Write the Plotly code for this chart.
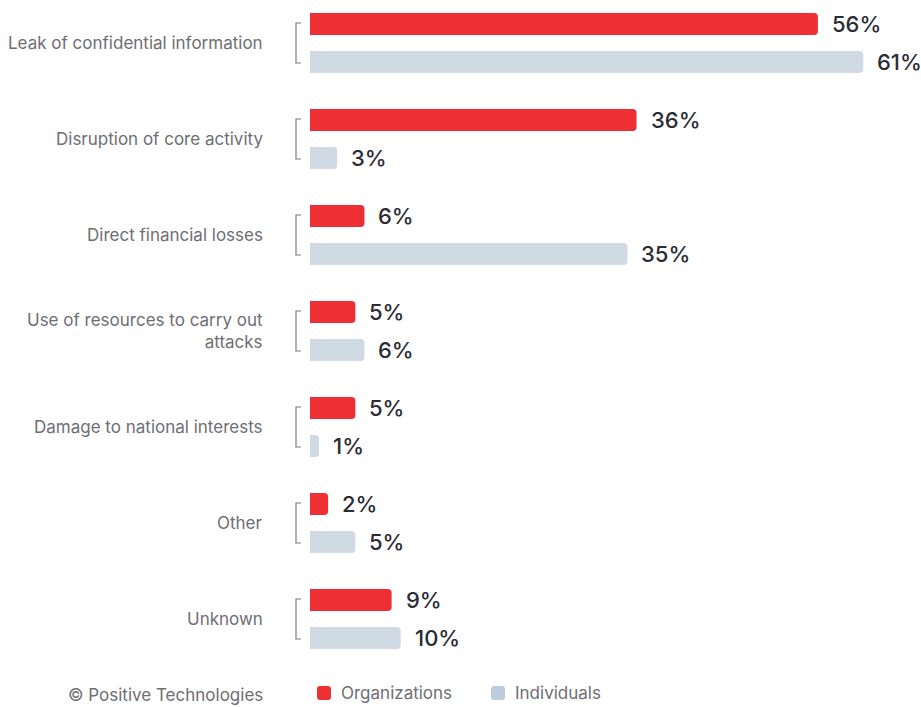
import plotly.graph_objects as go

# Consequences of attacks, share of incidents (%)
categories = [
    "Leak of confidential information",
    "Disruption of core activity",
    "Direct financial losses",
    "Use of resources to carry out<br>attacks",
    "Damage to national interests",
    "Other",
    "Unknown",
]
organizations = [56, 36, 6, 5, 5, 2, 9]
individuals = [61, 3, 35, 6, 1, 5, 10]
series_names = ["Organizations", "Individuals"]

RED = "#EE3034"
GREY_BAR = "#D0DAE4"
GREY_LEGEND = "#BDCCDC"
LABEL = "#2B2B33"
MUTED = "#6E6E73"
FONT = "Inter"

W, H = 921, 707
LEFT = 310
PX_PER_UNIT = 9.07
GROUP_PX = 96
FIRST_CENTER = 43

plot_w = W - LEFT
x_max = plot_w / PX_PER_UNIT
y_top = -FIRST_CENTER / GROUP_PX
y_bottom = y_top + H / GROUP_PX

offset = 19 / GROUP_PX
bar_w = 22 / GROUP_PX


def px_x(px):
    return (px - LEFT) / plot_w


def px_y(py):
    return 1 - py / H


idx = list(range(len(categories)))
y_org = [i - offset for i in idx]
y_ind = [i + offset for i in idx]

fig = go.Figure()
fig.add_trace(go.Bar(
    x=organizations, y=y_org, orientation="h", width=bar_w,
    marker=dict(color=RED, cornerradius=4, line=dict(width=0)),
    name=series_names[0], hoverinfo="x+name",
))
fig.add_trace(go.Bar(
    x=individuals, y=y_ind, orientation="h", width=bar_w,
    marker=dict(color=GREY_BAR, cornerradius=4, line=dict(width=0)),
    name=series_names[1], hoverinfo="x+name",
))

annotations = []
# value labels
for vals, ys in ((organizations, y_org), (individuals, y_ind)):
    for v, y in zip(vals, ys):
        annotations.append(dict(
            x=v, y=y, xref="x", yref="y", text=f"{v}%", showarrow=False,
            xanchor="left", yanchor="middle", xshift=12,
            font=dict(family=FONT, size=22, color=LABEL, weight=500),
        ))

# category labels
for i, c in enumerate(categories):
    annotations.append(dict(
        x=px_x(265), y=i, xref="paper", yref="y", text=c, showarrow=False,
        xanchor="right", yanchor="middle", align="right",
        font=dict(family=FONT, size=17, color=MUTED),
    ))

# footer: copyright and legend
annotations.append(dict(
    x=px_x(265), y=px_y(695), xref="paper", yref="paper",
    text="© Positive Technologies", showarrow=False,
    xanchor="right", yanchor="middle",
    font=dict(family=FONT, size=17, color=MUTED),
))
legend_items = [(series_names[0], RED, 317), (series_names[1], GREY_LEGEND, 491)]
for name, col, x0 in legend_items:
    annotations.append(dict(
        x=px_x(x0 + 22), y=px_y(693), xref="paper", yref="paper",
        text=name, showarrow=False, xanchor="left", yanchor="middle",
        font=dict(family=FONT, size=17, color=MUTED),
    ))

shapes = []
# brackets joining each pair of bars
for i in idx:
    xa, xb = px_x(296), px_x(301)
    ya, yb = i - 20 / GROUP_PX, i + 20 / GROUP_PX
    shapes.append(dict(
        type="path", xref="paper", yref="y",
        path=f"M {xb},{ya} L {xa},{ya} L {xa},{yb} L {xb},{yb}",
        line=dict(color="#7A7A80", width=1.2),
    ))

# rounded legend swatches
def rounded_square(x0, y0, size, r):
    x1, y1 = x0 + size, y0 + size
    pts = [
        f"M {px_x(x0 + r)},{px_y(y0)}",
        f"L {px_x(x1 - r)},{px_y(y0)}",
        f"Q {px_x(x1)},{px_y(y0)} {px_x(x1)},{px_y(y0 + r)}",
        f"L {px_x(x1)},{px_y(y1 - r)}",
        f"Q {px_x(x1)},{px_y(y1)} {px_x(x1 - r)},{px_y(y1)}",
        f"L {px_x(x0 + r)},{px_y(y1)}",
        f"Q {px_x(x0)},{px_y(y1)} {px_x(x0)},{px_y(y1 - r)}",
        f"L {px_x(x0)},{px_y(y0 + r)}",
        f"Q {px_x(x0)},{px_y(y0)} {px_x(x0 + r)},{px_y(y0)}",
        "Z",
    ]
    return " ".join(pts)


for name, col, x0 in legend_items:
    shapes.append(dict(
        type="path", xref="paper", yref="paper",
        path=rounded_square(x0, 686, 14, 3),
        fillcolor=col, line=dict(width=0),
    ))

fig.update_layout(
    width=W, height=H,
    margin=dict(l=LEFT, r=0, t=0, b=0),
    paper_bgcolor="white", plot_bgcolor="white",
    showlegend=False,
    barmode="overlay",
    xaxis=dict(range=[0, x_max], visible=False, fixedrange=True),
    yaxis=dict(range=[y_bottom, y_top], visible=False, fixedrange=True),
    annotations=annotations,
    shapes=shapes,
)

fig.write_html("out.html")
